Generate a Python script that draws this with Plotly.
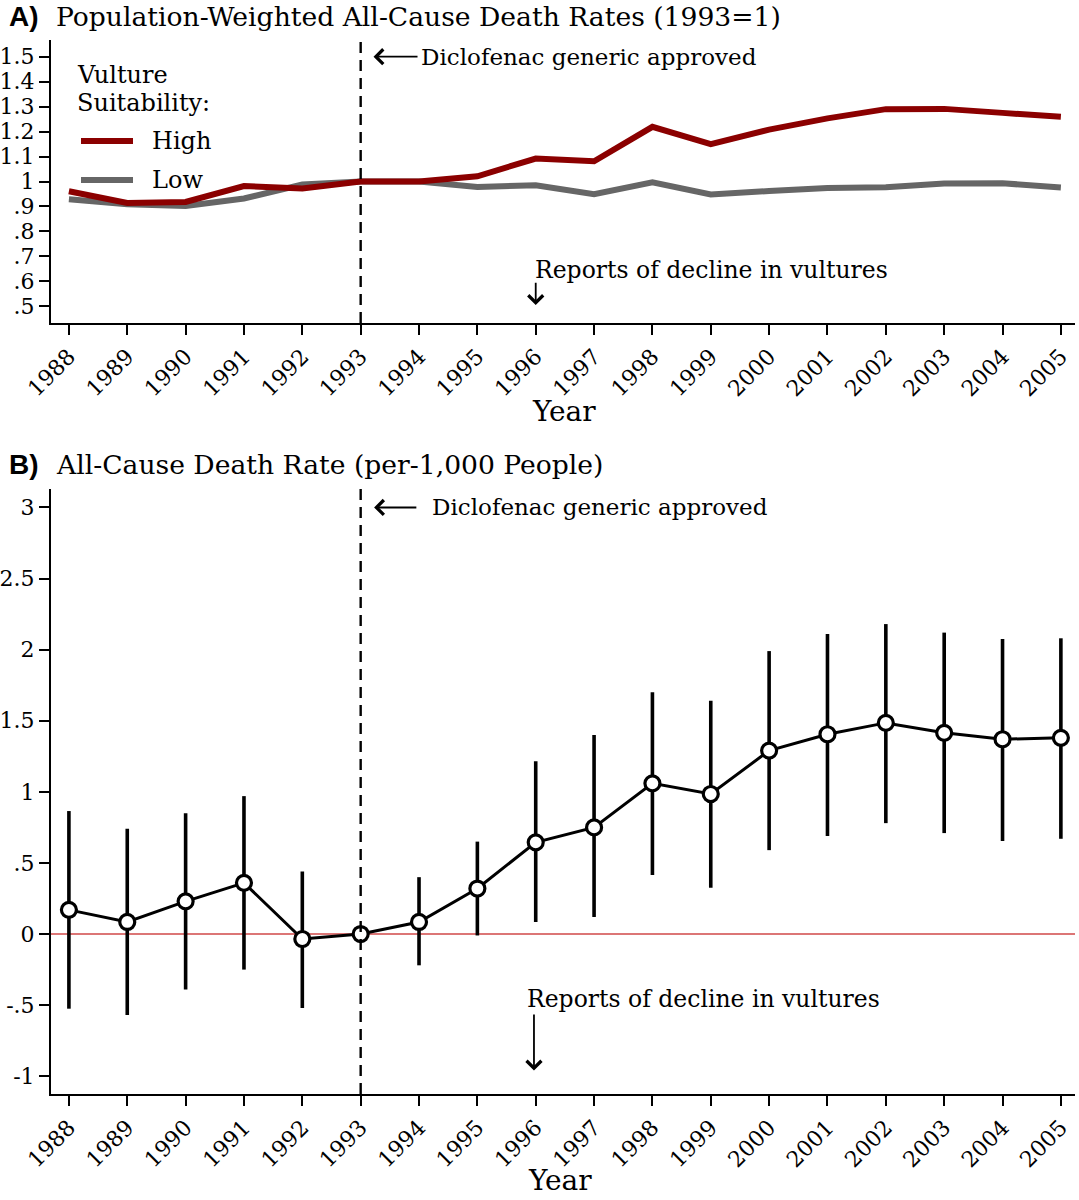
import plotly.graph_objects as go

# ---------------- data ----------------
years = list(range(1988, 2006))
year_labels = [str(y) for y in years]

high_suit = [0.961, 0.914, 0.918, 0.982, 0.972, 1.000, 1.000, 1.021, 1.092, 1.081,
             1.219, 1.150, 1.208, 1.253, 1.290, 1.291, 1.275, 1.259]
low_suit = [0.929, 0.909, 0.902, 0.932, 0.988, 1.000, 1.000, 0.978, 0.985, 0.949,
            0.997, 0.948, 0.962, 0.974, 0.977, 0.992, 0.993, 0.976]

coef = [0.17, 0.085, 0.23, 0.36, -0.035, 0.0, 0.085, 0.32, 0.645, 0.75,
        1.06, 0.985, 1.29, 1.405, 1.485, 1.415, 1.37, 1.38]
ci_hi = [0.865, 0.74, 0.85, 0.97, 0.44, 0.0, 0.40, 0.65, 1.215, 1.40,
         1.70, 1.64, 1.99, 2.11, 2.18, 2.12, 2.075, 2.08]
ci_lo = [-0.525, -0.57, -0.39, -0.25, -0.52, 0.0, -0.22, -0.01, 0.085, 0.12,
         0.415, 0.325, 0.59, 0.69, 0.78, 0.71, 0.655, 0.67]

top_tickvals = [0.5, 0.6, 0.7, 0.8, 0.9, 1.0, 1.1, 1.2, 1.3, 1.4, 1.5]
top_ticktext = [".5", ".6", ".7", ".8", ".9", "1", "1.1", "1.2", "1.3", "1.4", "1.5"]
bot_tickvals = [-1, -0.5, 0, 0.5, 1, 1.5, 2, 2.5, 3]
bot_ticktext = ["-1", "-.5", "0", ".5", "1", "1.5", "2", "2.5", "3"]

legend_title = ["Vulture", "Suitability:"]
series_names = ["High", "Low"]

# ---------------- style ----------------
W, H = 1079, 1200
ML, MR = 51, 4
SERIF = "DejaVu Serif"
RED = "#8b0000"
GRAY = "#666666"


def py(p):
    return 1 - p / H


def px(p):
    return (p - ML) / (W - ML - MR)


fig = go.Figure()

fig.add_trace(go.Scatter(x=years, y=low_suit, mode="lines", name=series_names[1],
                         showlegend=False,
                         line=dict(color=GRAY, width=6), xaxis="x", yaxis="y"))
fig.add_trace(go.Scatter(x=years, y=high_suit, mode="lines", name=series_names[0],
                         showlegend=False,
                         line=dict(color=RED, width=6), xaxis="x", yaxis="y"))

err_plus = [h - c for h, c in zip(ci_hi, coef)]
err_minus = [c - l for c, l in zip(coef, ci_lo)]
fig.add_trace(go.Scatter(
    x=years, y=coef, mode="lines+markers", showlegend=False,
    line=dict(color="black", width=3),
    marker=dict(symbol="circle", size=15, color="white",
                line=dict(color="black", width=3.2)),
    error_y=dict(type="data", symmetric=False, array=err_plus, arrayminus=err_minus,
                 color="black", thickness=3.6, width=0),
    xaxis="x2", yaxis="y2"))

xrange = [1987.693, 2005.242]
axis_common = dict(showline=True, linecolor="black", linewidth=2, ticks="outside",
                   ticklen=10, tickwidth=2, tickcolor="black", showgrid=False,
                   zeroline=False, automargin=False,
                   tickfont=dict(family=SERIF, size=22, color="black"))

fig.update_layout(
    width=W, height=H,
    margin=dict(l=ML, r=MR, t=0, b=0),
    plot_bgcolor="white", paper_bgcolor="white",
    showlegend=False,
    xaxis=dict(domain=[0, 1], anchor="y", range=xrange, tickvals=years,
               ticktext=year_labels, tickangle=-45, **axis_common),
    yaxis=dict(domain=[py(323), py(40)], anchor="x", range=[0.433, 1.567],
               tickvals=top_tickvals, ticktext=top_ticktext, **axis_common),
    xaxis2=dict(domain=[0, 1], anchor="y2", range=xrange, tickvals=years,
                ticktext=year_labels, tickangle=-45, **axis_common),
    yaxis2=dict(domain=[py(1094), py(489)], anchor="x2", range=[-1.125, 3.13],
                tickvals=bot_tickvals, ticktext=bot_ticktext, **axis_common),
)

# vertical dashed lines at 1993 and red zero line
for yr in ("y", "y2"):
    fig.add_shape(type="line", xref="x" if yr == "y" else "x2", yref=f"{yr} domain",
                  x0=1993, x1=1993, y0=0, y1=1,
                  line=dict(color="black", width=2.4, dash="11px,7px"))
fig.add_shape(type="line", xref="x2 domain", yref="y2", x0=0, x1=1, y0=0, y1=0,
              line=dict(color="#d04848", width=1.6), layer="below")

# legend (keys + labels)
leg_font = dict(family=SERIF, size=24, color="black")
fig.add_annotation(x=px(75), y=py(75), xref="paper", yref="paper", text=legend_title[0],
                   showarrow=False, xanchor="left", yanchor="middle", font=leg_font)
fig.add_annotation(x=px(75), y=py(103), xref="paper", yref="paper", text=legend_title[1],
                   showarrow=False, xanchor="left", yanchor="middle", font=leg_font)
for name, col, yy in ((series_names[0], RED, 141), (series_names[1], GRAY, 180)):
    fig.add_shape(type="line", xref="paper", yref="paper", x0=px(81), x1=px(133),
                  y0=py(yy), y1=py(yy), line=dict(color=col, width=6))
    fig.add_annotation(x=px(150), y=py(yy), xref="paper", yref="paper", text=name,
                       showarrow=False, xanchor="left", yanchor="middle", font=leg_font)

ann_font = dict(family=SERIF, size=23, color="black")
arrow = dict(showarrow=True, arrowhead=4, arrowsize=1.6, arrowwidth=1.8,
             arrowcolor="black", text="")

# Panel A annotations
fig.add_annotation(x=1993.22, y=1.5, ax=1994.0, ay=1.5, xref="x", yref="y",
                   axref="x", ayref="y", **arrow)
fig.add_annotation(x=1994.0, y=1.5, xref="x", yref="y", text="Diclofenac generic approved",
                   showarrow=False, xanchor="left", yanchor="middle", font=ann_font)
fig.add_annotation(x=1995.95, y=0.645, xref="x", yref="y", text="Reports of decline in vultures",
                   showarrow=False, xanchor="left", yanchor="middle",
                   font=dict(family=SERIF, size=23.5, color="black"))
fig.add_annotation(x=1996, y=0.505, ax=1996, ay=0.60, xref="x", yref="y",
                   axref="x", ayref="y", **arrow)

# Panel B annotations
fig.add_annotation(x=1993.23, y=3, ax=1993.98, ay=3, xref="x2", yref="y2",
                   axref="x2", ayref="y2", **arrow)
fig.add_annotation(x=1994.18, y=3, xref="x2", yref="y2", text="Diclofenac generic approved",
                   showarrow=False, xanchor="left", yanchor="middle", font=ann_font)
fig.add_annotation(x=1995.82, y=-0.455, xref="x2", yref="y2", text="Reports of decline in vultures",
                   showarrow=False, xanchor="left", yanchor="middle",
                   font=dict(family=SERIF, size=23.5, color="black"))
fig.add_annotation(x=1995.97, y=-0.96, ax=1995.97, ay=-0.555, xref="x2", yref="y2",
                   axref="x2", ayref="y2", **arrow)

# Titles
title_font = dict(family=SERIF, size=26.6, color="black")
panel_font = dict(family="Liberation Sans", size=28, color="black")
fig.add_annotation(x=px(7), y=py(17), xref="paper", yref="paper", text="<b>A)</b>",
                   showarrow=False, xanchor="left", yanchor="middle", font=panel_font)
fig.add_annotation(x=px(54), y=py(17), xref="paper", yref="paper",
                   text="Population-Weighted All-Cause Death Rates (1993=1)",
                   showarrow=False, xanchor="left", yanchor="middle", font=title_font)
fig.add_annotation(x=px(7), y=py(465), xref="paper", yref="paper", text="<b>B)</b>",
                   showarrow=False, xanchor="left", yanchor="middle", font=panel_font)
fig.add_annotation(x=px(54), y=py(465), xref="paper", yref="paper",
                   text="All-Cause Death Rate (per-1,000 People)",
                   showarrow=False, xanchor="left", yanchor="middle", font=title_font)

# Axis titles
year_font = dict(family=SERIF, size=28, color="black")
fig.add_annotation(x=px(564), y=py(411), xref="paper", yref="paper", text="Year",
                   showarrow=False, xanchor="center", yanchor="middle", font=year_font)
fig.add_annotation(x=px(560), y=py(1180), xref="paper", yref="paper", text="Year",
                   showarrow=False, xanchor="center", yanchor="middle", font=year_font)

fig.write_html("out.html")
